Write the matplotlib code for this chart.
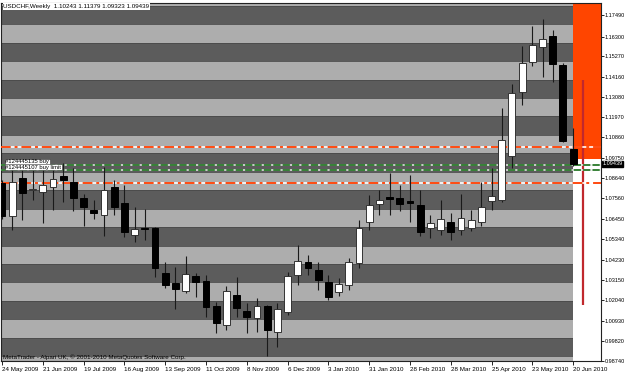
import matplotlib
matplotlib.use("Agg")
import matplotlib.pyplot as plt
import matplotlib.transforms as mtransforms
import numpy as np

plt.rcParams["font.family"] = ["Liberation Sans", "DejaVu Sans"]

# ---------------- data ----------------
date_labels = ["24 May 2009", "21 Jun 2009", "19 Jul 2009", "16 Aug 2009", "13 Sep 2009",
               "11 Oct 2009", "8 Nov 2009", "6 Dec 2009", "3 Jan 2010", "31 Jan 2010",
               "28 Feb 2010", "28 Mar 2010", "25 Apr 2010", "23 May 2010", "20 Jun 2010"]

opens = [1.0839, 1.0661, 1.0867, 1.0799, 1.0791, 1.0818, 1.0877, 1.0845, 1.0758, 1.0693,
         1.0666, 1.0818, 1.0731, 1.0558, 1.0596, 1.0596, 1.0352, 1.0297, 1.0254, 1.0335,
         1.0308, 1.0173, 1.0070, 1.0233, 1.0146, 1.0108, 1.0173, 1.0032, 1.0140, 1.0341,
         1.0411, 1.0368, 1.0303, 1.0249, 1.0287, 1.0406, 1.0628, 1.0726, 1.0764, 1.0758,
         1.0742, 1.0720, 1.0596, 1.0585, 1.0628, 1.0585, 1.0596, 1.0628, 1.0742, 1.0747,
         1.0986, 1.1333, 1.1495, 1.1577, 1.1636, 1.1479, 1.10243]
highs = [1.0856, 1.0926, 1.0921, 1.0910, 1.0953, 1.0915, 1.0948, 1.0921, 1.0780, 1.0747,
         1.0926, 1.0856, 1.0829, 1.0709, 1.0699, 1.0601, 1.0411, 1.0384, 1.0444, 1.0352,
         1.0341, 1.0195, 1.0281, 1.0330, 1.0189, 1.0216, 1.0178, 1.0189, 1.0357, 1.0503,
         1.0449, 1.0411, 1.0341, 1.0325, 1.0433, 1.0639, 1.0774, 1.0802, 1.0894, 1.0829,
         1.0883, 1.0802, 1.0666, 1.0747, 1.0677, 1.0780, 1.0693, 1.0845, 1.0921, 1.1246,
         1.1376, 1.1582, 1.1690, 1.1728, 1.1669, 1.1490, 1.11379]
lows = [1.0644, 1.0585, 1.0639, 1.0747, 1.0623, 1.0693, 1.0737, 1.0688, 1.0606, 1.0644,
        1.0552, 1.0666, 1.0547, 1.0520, 1.0531, 1.0330, 1.0270, 1.0157, 1.0243, 1.0222,
        1.0113, 1.0027, 1.0043, 1.0113, 1.0027, 1.0032, 0.9902, 0.9951, 1.0124, 1.0287,
        1.0341, 1.0260, 1.0205, 1.0227, 1.0260, 1.0379, 1.0585, 1.0666, 1.0666, 1.0688,
        1.0628, 1.0552, 1.0541, 1.0558, 1.0531, 1.0558, 1.0579, 1.0606, 1.0693, 1.0737,
        1.0921, 1.1262, 1.1474, 1.1414, 1.1387, 1.1060, 1.09323]
closes = [1.0661, 1.0845, 1.0785, 1.0804, 1.0829, 1.0861, 1.0856, 1.0758, 1.0709, 1.0677,
          1.0802, 1.0709, 1.0574, 1.0590, 1.0590, 1.0379, 1.0287, 1.0265, 1.0346, 1.0303,
          1.0167, 1.0081, 1.0254, 1.0162, 1.0113, 1.0173, 1.0043, 1.0157, 1.0335, 1.0417,
          1.0379, 1.0314, 1.0222, 1.0292, 1.0411, 1.0596, 1.0720, 1.0747, 1.0753, 1.0726,
          1.0731, 1.0574, 1.0623, 1.0644, 1.0574, 1.0650, 1.0639, 1.0709, 1.0769, 1.1073,
          1.1327, 1.1490, 1.1587, 1.1620, 1.1484, 1.1067, 1.09439]

price_ticks = [1.17490, 1.16300, 1.15270, 1.14160, 1.13080, 1.11970, 1.10860, 1.09750,
               1.08640, 1.07560, 1.06450, 1.05340, 1.04230, 1.03150, 1.02040, 1.00930,
               0.99820, 0.98740]

orange_levels = [1.1035, 1.0841]
green_levels = [1.0937, 1.0907]
order_labels = ["#124445135 buy", "#124445107 buy limit"]
zone_top = 1.0968
red_line = (1.1398, 1.0178)
title = "USDCHF,Weekly  1.10243 1.11379 1.09323 1.09439"
last_price = "1.09439"
copyright_text = "MetaTrader - Alpari UK, \u00a9 2001-2010 MetaQuotes Software Corp."

# ---------------- figure ----------------
W, H = 625, 375
fig = plt.figure(figsize=(W / 100, H / 100), dpi=100)
fig.patch.set_facecolor("white")
ax = fig.add_axes([1 / W, 14 / H, 600 / W, 358 / H])

n = len(opens)
x = np.arange(n)
ymin, ymax = 0.98747, 1.18151
ax.set_xlim(-0.1, 58.73)
ax.set_ylim(ymin, ymax)

# stripes every 0.01
dark, light = "#5c5c5c", "#adadad"
for k in range(98, 119):
    lo = k / 100
    ax.axhspan(lo, lo + 0.01, color=dark if k % 2 == 1 else light, lw=0, zorder=0)
    ax.axhline(lo, color="#4a4a4a", lw=0.6, zorder=0.5)

# right zone
ax.fill_between([56, 58.8], zone_top, ymax, color="#ff4500", lw=0, zorder=1)
ax.fill_between([56, 58.8], ymin, zone_top, color="white", lw=0, zorder=1)
ax.vlines(56.95, red_line[1], red_line[0], color="#c0282d", lw=1.6, zorder=2)

# horizontal lines
for lv in orange_levels:
    ax.axhline(lv, color="white", lw=1.2, zorder=3)
    ax.axhline(lv, color="#ff4a10", lw=1.4, ls=(0, (5, 2, 1.5, 2)), zorder=3.1)
for lv in green_levels:
    ax.axhline(lv, color="#e8e8e8", lw=1.1, zorder=3)
    ax.axhline(lv, color="#2a7a2a", lw=1.3, ls=(0, (4, 1.2)), zorder=3.1)

# candles
o = np.array(opens); c = np.array(closes); h = np.array(highs); l = np.array(lows)
ax.vlines(x, l, h, color="#1a1a1a", lw=0.8, zorder=4)
up = c >= o
bw = 0.68
body_lo = np.minimum(o, c)
body_h = np.maximum(np.abs(c - o), 0.0005)
ax.bar(x[up], body_h[up], bottom=body_lo[up], width=bw, color="white",
       edgecolor="#333333", lw=0.7, zorder=5)
ax.bar(x[~up], body_h[~up], bottom=body_lo[~up], width=bw, color="black",
       edgecolor="black", lw=0.7, zorder=5)

# axes styling
for s in ax.spines.values():
    s.set_color("#222222")
    s.set_linewidth(0.8)
fs = 4.5
ax.yaxis.tick_right()
ax.set_yticks(price_ticks)
ax.set_yticklabels([f"{p:.5f}" for p in price_ticks])
ax.tick_params(axis="y", direction="out", length=2, width=0.6, pad=0.8,
               labelsize=4.0, colors="black")
ax.set_xticks(np.arange(0, n, 4))
ax.set_xticklabels(date_labels, ha="left")
ax.tick_params(axis="x", direction="out", length=3, width=0.6, pad=1.5,
               labelsize=fs, colors="black")

ax.text(0.004, 0.997, title, transform=ax.transAxes, ha="left", va="top",
        fontsize=fs, color="black", zorder=10,
        bbox=dict(facecolor="white", edgecolor="none", pad=0.6))
ax.text(0.004, 0.004, copyright_text, transform=ax.transAxes, ha="left", va="bottom",
        fontsize=fs, color="black", zorder=10)

trans = mtransforms.blended_transform_factory(ax.transAxes, ax.transData)
ax.text(0.007, green_levels[0] + 0.0004, order_labels[0], transform=trans, ha="left",
        va="bottom", fontsize=4.2, color="black", zorder=10,
        bbox=dict(facecolor="white", edgecolor="#333333", lw=0.4, pad=0.4))
ax.text(0.007, green_levels[1] + 0.0004, order_labels[1], transform=trans, ha="left",
        va="bottom", fontsize=4.2, color="black", zorder=10,
        bbox=dict(facecolor="white", edgecolor="#333333", lw=0.4, pad=0.4))

ax.text(1.002, float(last_price), last_price, transform=trans, ha="left", va="center",
        fontsize=4.0, color="white", zorder=10, clip_on=False,
        bbox=dict(facecolor="black", edgecolor="black", pad=0.5))

fig.savefig("out.png", dpi=100)
